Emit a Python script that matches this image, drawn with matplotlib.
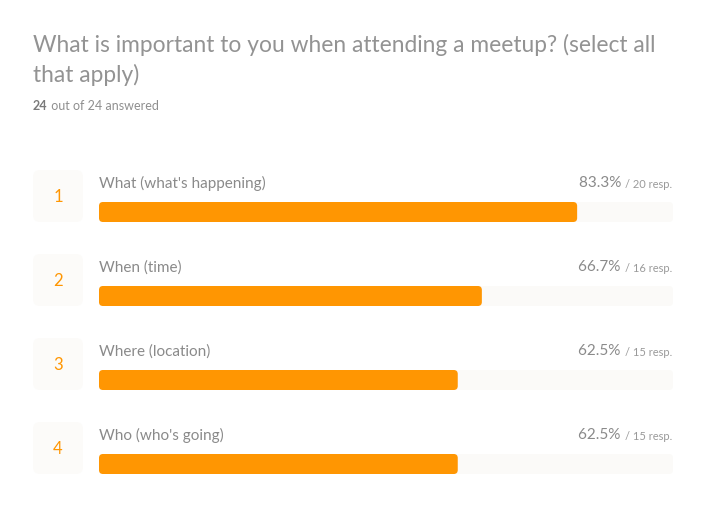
import matplotlib.pyplot as plt
from matplotlib.patches import FancyBboxPatch

plt.rcParams['font.family'] = ['Lato', 'DejaVu Sans']

# survey data
title = "What is important to you when attending a meetup? (select all\nthat apply)"
answered = 24
total = 24
labels = ["What (what's happening)", "When (time)", "Where (location)", "Who (who's going)"]
pcts = [83.3, 66.7, 62.5, 62.5]
resps = [20, 16, 15, 15]

orange = '#ff9602'
W, H = 706, 508

fig = plt.figure(figsize=(W / 100, H / 100), dpi=100)
ax = fig.add_axes([0, 0, 1, 1])
ax.set_xlim(0, W)
ax.set_ylim(H, 0)
ax.axis('off')

# bar area: x in percent, y in pixel rows
x0, x1 = 99, 673
axb = fig.add_axes([x0 / W, 0, (x1 - x0) / W, 1])
axb.set_xlim(0, 100)
axb.set_ylim(H, 0)
axb.axis('off')
asp = (x1 - x0) / 100.0

ax.text(33, 82, title, fontsize=16.4, color='#939393', va='baseline', ha='left',
        linespacing=1.45)
t = ax.text(33, 110, str(answered), fontsize=9, color='#7a7a7a', fontweight='bold',
            va='baseline')
ax.annotate(' out of %d answered' % total, xy=(1, 0), xycoords=t, fontsize=9,
            color='#8f8f8f', va='bottom', ha='left')

for i, (lab, p, r) in enumerate(zip(labels, pcts, resps)):
    top = 202 + 84 * i
    bh = 20
    # number box
    ax.add_patch(FancyBboxPatch((33, top - 32), 50, 52,
                                boxstyle='round,pad=0,rounding_size=7',
                                fc='#fcfbf9', ec='none'))
    ax.text(58, top - 5, str(i + 1), fontsize=12, color=orange, ha='center',
            va='center')
    ax.text(99, top - 14, lab, fontsize=11, color='#8a8a8a', va='baseline')
    rt = ax.text(672, top - 14, '/ %d resp.' % r, fontsize=8, color='#9a9a9a',
                 ha='right', va='baseline')
    ax.annotate('%.1f%% ' % p, xy=(0, 0), xycoords=rt, fontsize=11,
                color='#8a8a8a', ha='right', va='bottom')
    # track and bar
    axb.add_patch(FancyBboxPatch((0, top), 100, bh,
                                 boxstyle='round,pad=0,rounding_size=%f' % (4 / asp),
                                 mutation_aspect=asp, fc='#fbfaf8', ec='none'))
    axb.add_patch(FancyBboxPatch((0, top), p, bh,
                                 boxstyle='round,pad=0,rounding_size=%f' % (4 / asp),
                                 mutation_aspect=asp, fc=orange, ec='none'))

fig.savefig('out.png', dpi=100, facecolor='white')
